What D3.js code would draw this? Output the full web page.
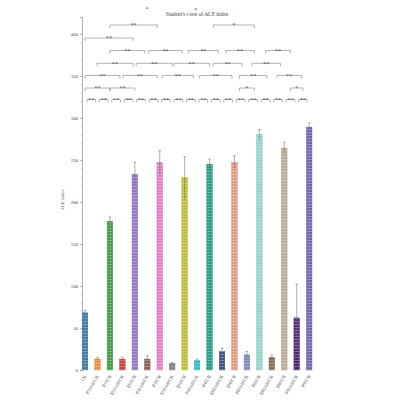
<!DOCTYPE html>
<html>
<head>
<meta charset="utf-8">
<script src="https://cdn.jsdelivr.net/npm/d3@7"></script>
<style>
  body { margin: 0; background: #fff; }
  text { font-family: "Liberation Serif", "DejaVu Serif", serif; fill: #444; }
</style>
</head>
<body>
<svg id="chart" width="400" height="400"></svg>
<script>
// groups, values
const groups = ["CK", "P15A60CK", "P15CR", "D15A60CK", "D15CR", "P30A60CK", "P30CR",
  "D30A60CK", "D30CR", "P45A60CK", "P45CR", "D45A60CK", "D45CR", "P60A60CK", "P60CR",
  "D60A60CK", "D60CR", "P90A60CK", "P90CR"]
const aceMean = [68, 13, 177, 13, 233, 13, 247, 8, 229, 11, 245, 22, 247, 18, 280, 15, 264, 62, 289]
const aceErr = [3, 2, 5, 2, 14, 4, 14, 1, 25, 2, 6, 4, 8, 4, 6, 3, 7, 40, 5]
const barColors = ["#3a78ad", "#ec8a3c", "#3c9a3c", "#d23a3a", "#9470c0", "#8c5a4c", "#e07cc4",
  "#808080", "#bcbd2a", "#30bccc", "#1f9987", "#3b4d80", "#e9957a", "#7a88bf", "#8fd3c8",
  "#8a6650", "#bba794", "#4c1d70", "#6b68ae"]
const yTicks = [0, 50, 100, 150, 200, 250, 300, 350, 400]

// significance brackets: [row, from, to, label] (from/to in group index units)
const sigRow = [0, 1, 1, 1, 1, 2, 2, 2, 2, 2, 2, 3, 3, 3, 3, 3, 4, 4, 4, 4, 4, 5, 6, 6]
const sigFrom = [null, 0, 2, 12.4, 16.5, 0, 3.05, 6.2, 9.2, 12.4, 15.4, 0.96, 4.1, 7.15, 10.3, 13.4,
  2.0, 5.1, 8.3, 11.3, 14.5, 0, 2.0, 10.3]
const sigTo = [null, 2, 4, 13.6, 17.5, 2.8, 5.8, 8.7, 11.8, 14.6, 17.4, 3.86, 7.0, 10.0, 12.6, 15.7,
  4.8, 7.8, 10.7, 13.6, 16.5, 3.86, 5.8, 13.6]
const sigLabel = ["**", "**", "**", "*", "*", "**", "**", "**", "**", "**", "**", "**", "**", "**", "**", "**",
  "**", "**", "**", "**", "**", "**", "**", "*"]
const rowY = [99.5, 88, 75.5, 63.3, 50.5, 38, 25]

const svg = d3.select("#chart")

const x = d3.scaleBand().domain(groups).range([78.8, 315.4])
  .paddingInner(0.55).paddingOuter(0.275)
const y = d3.scaleLinear().domain([0, 420]).range([370, 17])
const xi = f => x(groups[0]) + x.bandwidth() / 2 + f * x.step()

// textured fills
const defs = svg.append("defs")
barColors.forEach((c, i) => {
  let p = defs.append("pattern").attr("id", "p" + i)
    .attr("patternUnits", "userSpaceOnUse").attr("width", 2.8).attr("height", 3)
  p.append("rect").attr("width", 2.8).attr("height", 3).attr("fill", c)
  p.append("line").attr("x1", 0).attr("x2", 2.8).attr("y1", 0.4).attr("y2", 0.4)
    .attr("stroke", "#fff").attr("stroke-opacity", 0.45).attr("stroke-width", 0.7)
  p.append("line").attr("x1", 1.4).attr("x2", 1.4).attr("y1", 0).attr("y2", 3)
    .attr("stroke", "#fff").attr("stroke-opacity", 0.2).attr("stroke-width", 0.5)
})

// y axis
const yAxis = svg.append("g").attr("transform", "translate(82,0)")
  .call(d3.axisLeft(y).tickValues(yTicks).tickSize(2).tickPadding(2))
yAxis.select(".domain").attr("stroke", "#777").attr("stroke-width", 0.6)
yAxis.selectAll(".tick line").attr("stroke", "#777").attr("stroke-width", 0.5)
yAxis.selectAll(".tick text").attr("font-size", 4.8).attr("fill", "#555")
  .style("font-family", "Liberation Serif")
svg.append("g").attr("transform", "translate(82,0)")
  .call(d3.axisLeft(y).ticks(42).tickSize(1.2).tickFormat(""))
  .call(g => g.select(".domain").remove())
  .selectAll(".tick line").attr("stroke", "#888").attr("stroke-width", 0.4)

svg.append("text").text("ACE index")
  .attr("transform", "translate(64,200) rotate(-90)")
  .attr("text-anchor", "middle").attr("font-size", 4.8)

// bars
svg.selectAll("rect.bar").data(groups).join("rect").attr("class", "bar")
  .attr("x", d => x(d))
  .attr("y", (d, i) => y(aceMean[i]))
  .attr("width", x.bandwidth())
  .attr("height", (d, i) => y(0) - y(aceMean[i]))
  .attr("fill", (d, i) => "url(#p" + i + ")")
  .attr("stroke", (d, i) => d3.color(barColors[i]).darker(0.4))
  .attr("stroke-width", 0.4)

// error bars
const err = svg.append("g").attr("stroke", "#777").attr("stroke-width", 0.6)
groups.forEach((g, i) => {
  let cx = x(g) + x.bandwidth() / 2
  err.append("line").attr("x1", cx).attr("x2", cx)
    .attr("y1", y(aceMean[i] - aceErr[i])).attr("y2", y(aceMean[i] + aceErr[i]))
  err.append("line").attr("x1", cx - 1.3).attr("x2", cx + 1.3)
    .attr("y1", y(aceMean[i] + aceErr[i])).attr("y2", y(aceMean[i] + aceErr[i]))
})

// x labels
svg.selectAll("text.xl").data(groups).join("text").attr("class", "xl")
  .text(d => d)
  .attr("text-anchor", "end").attr("font-size", 4.6)
  .attr("transform", d => "translate(" + (x(d) + x.bandwidth() / 2 + 1.5) + ",376) rotate(-60)")

// significance brackets
const sig = svg.append("g")
sigRow.forEach((r, k) => {
  let pairs = sigFrom[k] === null ? d3.range(18).map(i => [i + 0.15, i + 0.85]) : [[sigFrom[k], sigTo[k]]]
  pairs.forEach(([a, b]) => {
    let x0 = xi(a), x1 = xi(b), yy = rowY[r]
    sig.append("path")
      .attr("d", `M${x0},${yy + 3}V${yy}H${x1}V${yy + 3}`)
      .attr("fill", "none").attr("stroke", "#808080").attr("stroke-width", 0.6)
    sig.append("text").text(sigLabel[k])
      .attr("x", (x0 + x1) / 2).attr("y", yy + 2.2)
      .attr("text-anchor", "middle").attr("font-size", 6.4).attr("fill", "#555")
  })
})

// stray marks above the title
svg.append("text").text("*").attr("x", xi(4.98)).attr("y", 10.5)
  .attr("text-anchor", "middle").attr("font-size", 6.4).attr("fill", "#555")
svg.append("text").text("*").attr("x", xi(8.9)).attr("y", 11.5)
  .attr("text-anchor", "middle").attr("font-size", 6.4).attr("fill", "#555")

svg.append("text").text("Student's t-test of ACE index")
  .attr("x", 197).attr("y", 16).attr("text-anchor", "middle").attr("font-size", 5.4)
</script>
</body>
</html>
